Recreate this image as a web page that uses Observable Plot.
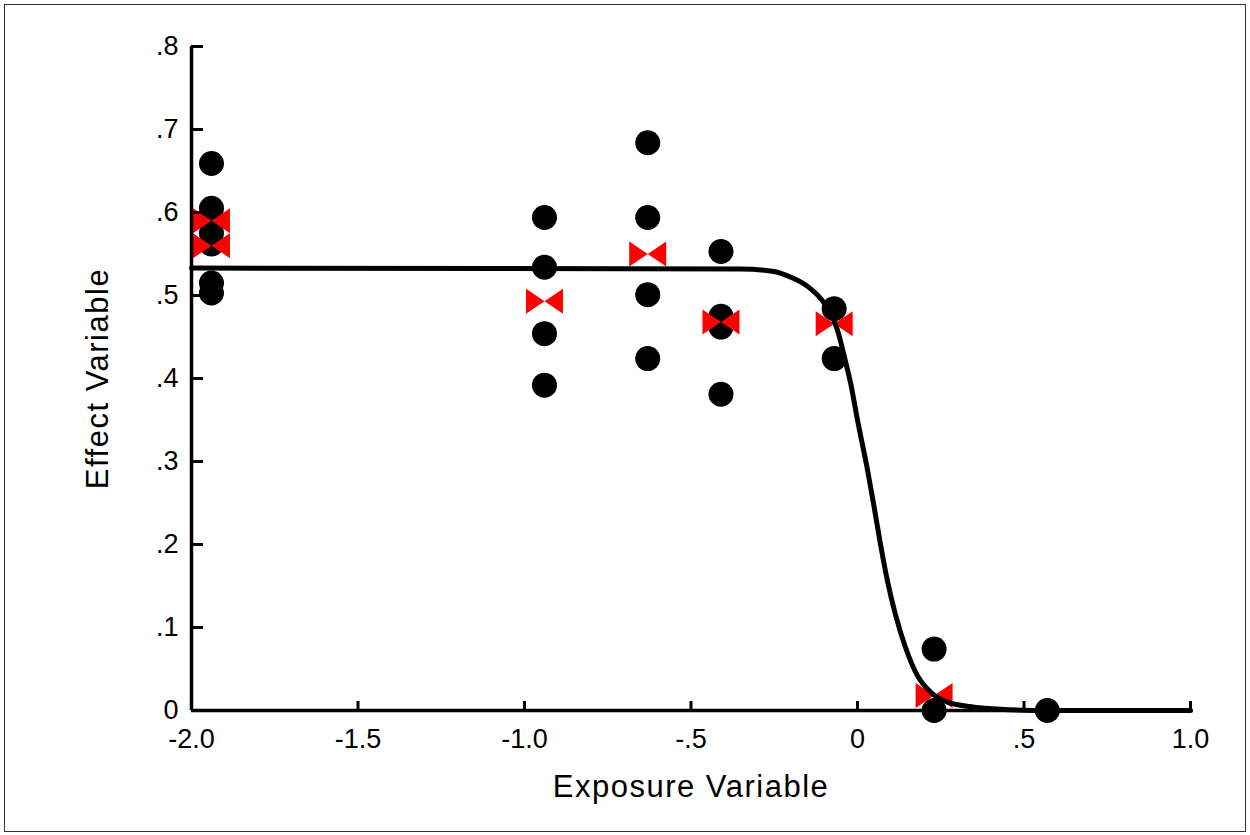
<!DOCTYPE html>
<html>
<head>
<meta charset="utf-8">
<script src="https://cdn.jsdelivr.net/npm/d3@7"></script>
<script src="https://cdn.jsdelivr.net/npm/@observablehq/plot@0.6"></script>
<style>
  html, body { margin: 0; padding: 0; background: #fff; }
  #wrap { position: relative; width: 1250px; height: 835px; }
  #border { position: absolute; left: 4px; top: 4px; width: 1240px; height: 826px; border: 1.5px solid #333; box-sizing: content-box; pointer-events: none; }
</style>
</head>
<body>
<div id="wrap"><div id="border"></div></div>
<script>
// Observed values (black dots)
const obsX = [-1.94, -1.94, -1.94, -1.94, -1.94, -1.94,
              -0.94, -0.94, -0.94, -0.94,
              -0.63, -0.63, -0.63, -0.63,
              -0.41, -0.41, -0.41, -0.41,
              -0.07, -0.07,
               0.23,  0.23,
               0.57];
const obsY = [0.659, 0.605, 0.575, 0.562, 0.515, 0.503,
              0.594, 0.534, 0.454, 0.392,
              0.684, 0.594, 0.501, 0.424,
              0.553, 0.475, 0.462, 0.381,
              0.484, 0.424,
              0.074, 0.000,
              0.000];
// Group means (red bowtie markers)
const meanX = [-1.94, -1.94, -0.94, -0.63, -0.41, -0.07, 0.23];
const meanY = [0.590, 0.560, 0.493, 0.550, 0.468, 0.466, 0.018];
// Fitted curve
const fitX = [-2.0, -0.35, -0.25, -0.20, -0.15, -0.11, -0.08, -0.06, -0.04, -0.02, 0.00, 0.03, 0.05, 0.07, 0.09, 0.115, 0.145, 0.18, 0.22, 0.27, 0.35, 0.43, 0.58, 1.0];
const fitY = [0.533, 0.532, 0.529, 0.522, 0.511, 0.496, 0.478, 0.458, 0.427, 0.393, 0.350, 0.290, 0.245, 0.198, 0.156, 0.114, 0.075, 0.042, 0.022, 0.010, 0.004, 0.0015, 0.000, 0.000];
// Ticks
const xTicks = [-2.0, -1.5, -1.0, -0.5, 0, 0.5, 1.0];
const xTickLabels = ["-2.0", "-1.5", "-1.0", "-.5", "0", ".5", "1.0"];
const yTicks = [0, 0.1, 0.2, 0.3, 0.4, 0.5, 0.6, 0.7, 0.8];
const yTickLabels = ["0", ".1", ".2", ".3", ".4", ".5", ".6", ".7", ".8"];
const xTitle = "Exposure Variable";
const yTitle = "Effect Variable";

const obs = obsX.map((x, i) => ({x, y: obsY[i]}));
const means = meanX.map((x, i) => ({x, y: meanY[i]}));
const fit = fitX.map((x, i) => ({x, y: fitY[i]}));

const bowtie = {
  draw(ctx, size) {
    const r = Math.sqrt(size / Math.PI);
    const w = r * 1.48, h = r;
    ctx.moveTo(-w, -h); ctx.lineTo(0, 0); ctx.lineTo(-w, h); ctx.closePath();
    ctx.moveTo(w, -h); ctx.lineTo(0, 0); ctx.lineTo(w, h); ctx.closePath();
  }
};

const font = "'Liberation Sans', Arial, sans-serif";

const chart = Plot.plot({
  width: 1250,
  height: 835,
  marginLeft: 191,
  marginRight: 60,
  marginTop: 46,
  marginBottom: 125,
  style: {fontFamily: font, color: "#000", background: "transparent"},
  x: {domain: [-2, 1]},
  y: {domain: [0, 0.8]},
  marks: [
    Plot.dot(obs, {x: "x", y: "y", r: 12.5, fill: "#000", stroke: null}),
    Plot.dot(means, {x: "x", y: "y", r: 12.5, symbol: bowtie, fill: "#ff0000", stroke: null}),
    Plot.line(fit, {x: "x", y: "y", stroke: "#000", strokeWidth: 5, curve: "monotone-x"}),
    Plot.ruleX([-2], {stroke: "#000", strokeWidth: 3.5}),
    Plot.ruleY([0], {stroke: "#000", strokeWidth: 3.5}),
    Plot.axisX({ticks: xTicks, tickSize: -9, strokeWidth: 3, text: null, label: null}),
    Plot.axisY({ticks: yTicks, tickSize: -12, strokeWidth: 3, text: null, label: null}),
    Plot.axisX({ticks: xTicks, tickSize: 0, tickPadding: 18, tickFormat: (d) => xTickLabels[xTicks.indexOf(d)], fontSize: 27,
                label: xTitle, labelAnchor: "center", labelArrow: "none", labelOffset: 86}),
    Plot.axisY({ticks: yTicks, tickSize: 0, tickPadding: 13, tickFormat: (d) => yTickLabels[yTicks.indexOf(d)], fontSize: 27,
                label: yTitle, labelAnchor: "center", labelArrow: "none", labelOffset: 106})
  ]
});
document.getElementById("wrap").prepend(chart);
chart.style.position = "absolute";
chart.style.left = "0";
chart.style.top = "0";
chart.querySelectorAll('[aria-label="x-axis label"], [aria-label="y-axis label"]').forEach(g => {
  g.setAttribute("font-size", 31);
  g.style.letterSpacing = "1.5px";
});
</script>
</body>
</html>
